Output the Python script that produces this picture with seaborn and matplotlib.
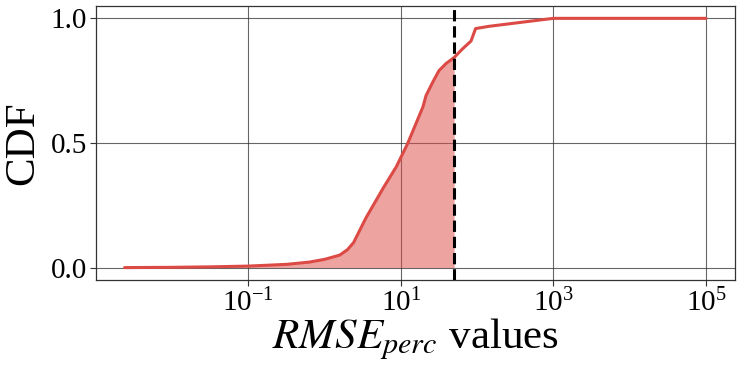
import matplotlib
matplotlib.use("Agg")
import matplotlib.pyplot as plt
import pandas as pd
import seaborn as sns

# CDF of RMSE_perc values
rmse_values = [0.0024, 0.01, 0.032, 0.1, 0.32, 0.63, 1.0, 1.58, 2.0, 2.4, 3.5, 5.9,
               8.7, 12.3, 15.8, 19.5, 21.4, 26.3, 31.6, 38.9, 50.0, 64.6, 83.2,
               95.5, 143.0, 400.0, 1000.0, 10000.0, 100000.0]
cdf_values = [0.0, 0.001, 0.003, 0.006, 0.013, 0.022, 0.033, 0.05, 0.072, 0.10, 0.20, 0.32,
              0.404, 0.498, 0.578, 0.645, 0.69, 0.745, 0.79, 0.818, 0.843, 0.878, 0.909,
              0.959, 0.968, 0.985, 1.0, 1.0, 1.0]
threshold = 50.0
x_ticks = [1e-1, 1e1, 1e3, 1e5]
y_ticks = [0.0, 0.5, 1.0]

sns.set_style("white")
plt.rcParams['font.family'] = 'serif'
plt.rcParams['font.serif'] = ['Liberation Serif', 'DejaVu Serif']
plt.rcParams['mathtext.fontset'] = 'stix'
plt.rcParams['text.color'] = 'black'
plt.rcParams['axes.labelcolor'] = 'black'
plt.rcParams['xtick.color'] = 'black'
plt.rcParams['ytick.color'] = 'black'

df = pd.DataFrame({'rmse': rmse_values, 'cdf': cdf_values})
red = '#dc4a45'

fig = plt.figure(figsize=(7.41, 3.68), dpi=100)
ax = fig.add_axes([0.129, 0.239, 0.863, 0.745])

sns.lineplot(data=df, x='rmse', y='cdf', color=red, lw=2.2, ax=ax, zorder=3)
ax.set_xscale('log')
below = df[df.rmse <= threshold]
ax.fill_between(below.rmse, 0, below.cdf, color=red, alpha=0.5, lw=0, zorder=2)
ax.axvline(threshold, color='black', ls='--', lw=2.2, zorder=4)

ax.set_ylim(-0.05, 1.05)
ax.set_xticks(x_ticks)
ax.xaxis.set_minor_locator(matplotlib.ticker.NullLocator())
ax.set_yticks(y_ticks)
ax.set_yticklabels([f'{v:.1f}' for v in y_ticks])
ax.grid(True, color='#333333', lw=0.8, alpha=0.75)
ax.set_axisbelow(True)
for sp in ax.spines.values():
    sp.set_color('#333333')
    sp.set_linewidth(0.9)
ax.tick_params(axis='both', labelsize=21, direction='out', length=4, width=0.8,
               color='#333333', pad=2, left=True, bottom=True)

ax.set_xlabel(r'$RMSE_{perc}$ values', fontsize=31, labelpad=0)
ax.set_ylabel('CDF', fontsize=31, labelpad=6)

fig.savefig('out.png', dpi=100)
